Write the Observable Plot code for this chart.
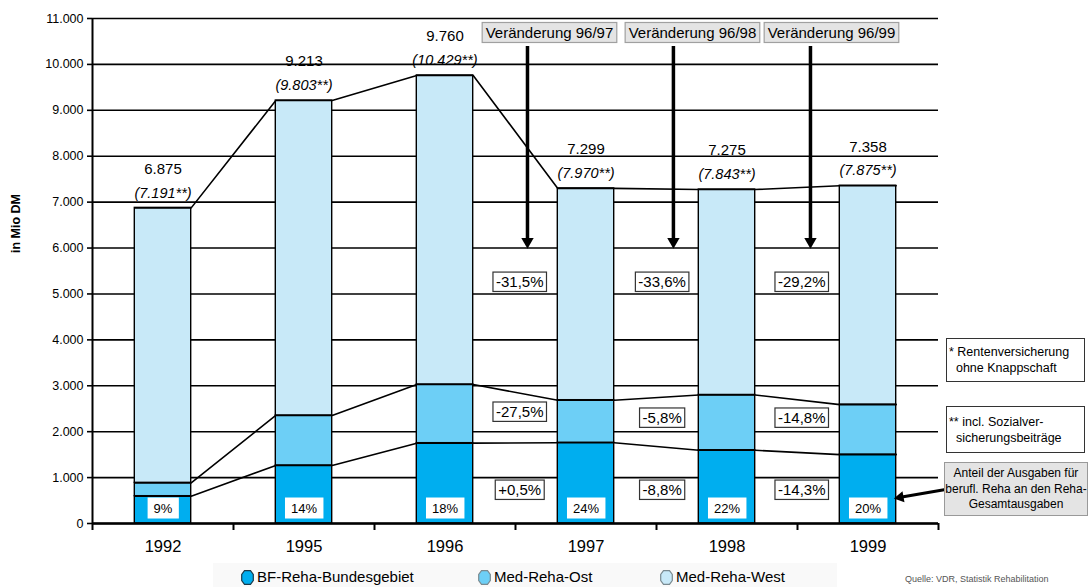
<!DOCTYPE html>
<html>
<head>
<meta charset="utf-8">
<script src="https://cdn.jsdelivr.net/npm/d3@7"></script>
<script src="https://cdn.jsdelivr.net/npm/@observablehq/plot@0.6"></script>
<style>
  html, body { margin: 0; padding: 0; background: #fff; }
  #wrap { position: relative; width: 1088px; height: 587px; overflow: hidden;
          font-family: "Liberation Sans", Arial, Helvetica, sans-serif; color: #000; }
  .note { position: absolute; box-sizing: border-box; font-size: 12.5px; line-height: 16px; }
  .legend-item { position: absolute; top: 568px; font-size: 15px; line-height: 18px; white-space: nowrap; display: flex; align-items: center; gap: 3px; }
</style>
</head>
<body>
<div id="wrap"></div>
<script>
// ---------- data ----------
const years = ["1992", "1995", "1996", "1997", "1998", "1999"];
const seriesNames = ["BF-Reha-Bundesgebiet", "Med-Reha-Ost", "Med-Reha-West"];
const seriesColors = ["#00aeef", "#6dcff6", "#c8e9f8"];
const bfReha  = [595, 1264, 1750, 1759, 1596, 1500];
const medOst  = [291, 1089, 1278, 927, 1204, 1089];
const medWest = [5989, 6860, 6732, 4613, 4475, 4769];
const totalsInclSV = [7191, 9803, 10429, 7970, 7843, 7875];
const bfShare = ["9%", "14%", "18%", "24%", "22%", "20%"];
const changeTitles = ["Veränderung 96/97", "Veränderung 96/98", "Veränderung 96/99"];
const changeWest = ["-31,5%", "-33,6%", "-29,2%"];
const changeOst  = ["-27,5%", "-5,8%", "-14,8%"];
const changeBF   = ["+0,5%", "-8,8%", "-14,3%"];
const yTicks = d3.range(0, 11001, 1000);
const notes = ["* Rentenversicherung\n  ohne Knappschaft", "** incl. Sozialver-\n  sicherungsbeiträge", "Anteil der Ausgaben für\nberufl. Reha an den Reha-\nGesamtausgaben"];
const sourceText = "Quelle: VDR, Statistik Rehabilitation";

// ---------- derived tables ----------
const de = d3.formatLocale({decimal: ",", thousands: ".", grouping: [3], currency: ["", " DM"]});
const fmt = de.format(",d");
const half = 0.2; // half bar width in band units

const segs = [];
const levels = [];
years.forEach((yr, i) => {
  const vals = [bfReha[i], medOst[i], medWest[i]];
  let cum = 0;
  vals.forEach((v, k) => {
    segs.push({i, series: seriesNames[k], y1: cum, y2: cum + v});
    cum += v;
    levels.push({level: k, x: i - half, y: cum});
    levels.push({level: k, x: i + half, y: cum});
  });
});
const totals = years.map((_, i) => bfReha[i] + medOst[i] + medWest[i]);
const barInfo = years.map((yr, i) => ({i, total: totals[i], incl: totalsInclSV[i], share: bfShare[i], bf: bfReha[i]}));

const arrowX = [2.585, 3.62, 4.592];
const titleX = [2.741, 3.755, 4.741];
const gapX = [2.53, 3.54, 4.53];
const gaps = changeTitles.map((t, g) => ({g, title: t, ax: arrowX[g], tx: titleX[g], lx: gapX[g],
  west: changeWest[g], ost: changeOst[g], bf: changeBF[g]}));

const font = "'Liberation Sans', Arial, Helvetica, sans-serif";

const chart = Plot.plot({
  width: 1088,
  height: 560,
  marginLeft: 92,
  marginRight: 150,
  marginTop: 18,
  marginBottom: 37,
  style: {fontFamily: font, background: "#fff", color: "#000", overflow: "visible"},
  x: {type: "linear", domain: [-0.5, 5.5]},
  y: {domain: [0, 11000]},
  color: {domain: seriesNames, range: seriesColors},
  marks: [
    Plot.ruleY(yTicks, {stroke: "#000", strokeWidth: 1.6}),
    Plot.rect(segs, {x1: d => d.i - half, x2: d => d.i + half, y1: "y1", y2: "y2", fill: "series", stroke: "#000", strokeWidth: 1.4}),
    Plot.line(levels, {x: "x", y: "y", z: "level", stroke: "#000", strokeWidth: 1.6}),
    Plot.ruleX([-0.5], {stroke: "#000", strokeWidth: 2}),
    Plot.ruleY([0], {stroke: "#000", strokeWidth: 2.5}),
    Plot.axisY({ticks: yTicks, tickFormat: fmt, tickSize: 5, tickPadding: 4, fontSize: 12.5, label: null, strokeWidth: 1.6}),
    Plot.axisX({ticks: d3.range(6), tickFormat: i => years[i], tickSize: 0, tickPadding: 17, fontSize: 16.5, label: null}),
    Plot.axisX({ticks: d3.range(-0.5, 6, 1), tickFormat: () => "", tickSize: 7, strokeWidth: 2, label: null}),
    Plot.text(["in Mio DM"], {frameAnchor: "left", rotate: -90, dx: -77, dy: -18, fontWeight: "bold", fontSize: 12.5}),
    // totals
    Plot.text(barInfo, {x: "i", y: "total", text: d => fmt(d.total), dy: -39, fontSize: 15}),
    Plot.text(barInfo, {x: "i", y: "total", text: d => `(${fmt(d.incl)}**)`, dy: -15, fontSize: 14.5, fontStyle: "italic"}),
    // BF share labels
    Plot.text(barInfo, {x: "i", y: () => 330, text: "share", fontSize: 13}),
    // change arrows (shaft + filled head)
    Plot.ruleX(gaps, {x: "ax", y1: () => 10390, y2: () => 6200, stroke: "#000", strokeWidth: 3.5}),
    Plot.dot(gaps, {x: "ax", y: () => 6000, dy: -6.5, symbol: "triangle", rotate: 180, r: 4.6, fill: "#000", stroke: "none"}),
    Plot.text(gaps, {x: "tx", y: () => 10680, text: "title", fontSize: 15}),
    Plot.text(gaps, {x: "lx", y: () => 5250, text: "west", fontSize: 15}),
    Plot.text(gaps, {x: "lx", y: (d) => d.g === 0 ? 2420 : 2290, text: "ost", fontSize: 15}),
    Plot.text(gaps, {x: "lx", y: () => 720, text: "bf", fontSize: 15}),
    // pointer from note box to share label (shaft + filled head)
    Plot.link([barInfo[5]], {x1: () => 5.55, y1: () => 740, x2: () => 5.23, y2: () => 571, stroke: "#000", strokeWidth: 3}),
    Plot.dot([barInfo[5]], {x: () => 5.18, y: () => 545, dx: 6.9, dy: -1.2, symbol: "triangle", rotate: -100, r: 4.2, fill: "#000", stroke: "none"})
  ]
});

const wrap = document.getElementById("wrap");
wrap.appendChild(chart);

function boxify(strings, padX, padY, fill, stroke) {
  const set = new Set(strings);
  chart.querySelectorAll("text").forEach(t => {
    if (!set.has(t.textContent)) return;
    const b = t.getBBox();
    const r = document.createElementNS("http://www.w3.org/2000/svg", "rect");
    r.setAttribute("x", b.x - padX);
    r.setAttribute("y", b.y - padY);
    r.setAttribute("width", b.width + 2 * padX);
    r.setAttribute("height", b.height + 2 * padY);
    r.setAttribute("fill", fill);
    r.setAttribute("stroke", stroke);
    r.setAttribute("stroke-width", stroke === "none" ? 0 : 1.2);
    const tr = t.getAttribute("transform");
    if (tr) r.setAttribute("transform", tr);
    t.parentNode.insertBefore(r, t);
  });
}
boxify(bfShare, 6, 3, "#fff", "none");
boxify(changeTitles, 3.5, 1.5, "#e4e4e4", "#a0a0a0");
boxify([...changeWest, ...changeOst, ...changeBF], 3, 1.2, "#fff", "#333");

// right-hand notes (HTML)
function note(text, left, top, width, height, opts) {
  const d = document.createElement("div");
  d.className = "note";
  Object.assign(d.style, {left: left + "px", top: top + "px", width: width + "px", height: height + "px"}, opts);
  d.style.whiteSpace = "pre";
  d.textContent = text;
  wrap.appendChild(d);
}
note(notes[0], 946, 338, 139, 44, {border: "1.2px solid #333", background: "#fff", padding: "5px 0 0 2px"});
note(notes[1], 946, 406, 139, 47, {border: "1.2px solid #333", background: "#fff", padding: "7px 0 0 2px"});
note(notes[2], 944, 462, 144, 54, {border: "1.2px solid #999", background: "#e4e4e4", padding: "3px 0 0 0", textAlign: "center", lineHeight: "15.5px", fontSize: "12px"});

// bottom legend (HTML)
const legendX = [241, 478, 660];
const legendBg = document.createElement("div");
Object.assign(legendBg.style, {position: "absolute", left: "213px", top: "563px", width: "624px", height: "30px", background: "#f9f9f9"});
wrap.appendChild(legendBg);
seriesNames.forEach((name, k) => {
  const item = document.createElement("div");
  item.className = "legend-item";
  item.style.left = legendX[k] + "px";
  item.innerHTML = `<svg width="13" height="15" viewBox="0 0 13 15"><polygon points="3.5,0.7 9.5,0.7 12.3,4.5 12.3,10.5 9.5,14.3 3.5,14.3 0.7,10.5 0.7,4.5" fill="${seriesColors[k]}" stroke="${k === 0 ? '#1a3a4a' : '#7a8a90'}" stroke-width="1.2"/></svg>`;
  const s = document.createElement("span");
  s.textContent = name;
  item.appendChild(s);
  wrap.appendChild(item);
});
const src = document.createElement("div");
Object.assign(src.style, {position: "absolute", left: "905px", top: "574px", fontSize: "9px", color: "#555", whiteSpace: "nowrap"});
src.textContent = sourceText;
wrap.appendChild(src);
</script>
</body>
</html>
